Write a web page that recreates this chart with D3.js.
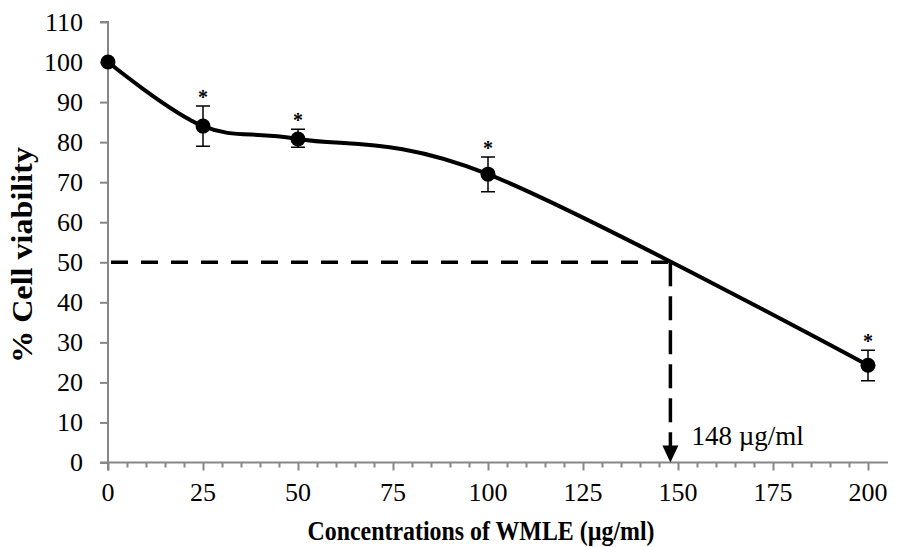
<!DOCTYPE html>
<html>
<head>
<meta charset="utf-8">
<script src="https://cdn.jsdelivr.net/npm/d3@7"></script>
<style>
  body { margin: 0; background: #fff; }
  svg text { font-family: "Liberation Serif", "Times New Roman", serif !important; }
</style>
</head>
<body>
<svg id="chart" width="901" height="547"></svg>
<script>
// data
const concentrations = [0, 25, 50, 100, 200];
const viability = [100, 84, 80.8, 72, 24.3];
const errUpper = [100, 89, 83.2, 76.3, 28];
const errLower = [100, 79, 78.7, 67.6, 20.4];
const significant = [false, true, true, true, true];
const xTicks = [0, 25, 50, 75, 100, 125, 150, 175, 200];
const yTicks = [0, 10, 20, 30, 40, 50, 60, 70, 80, 90, 100, 110];
const ic50 = 148;
const ic50Level = 50;

const svg = d3.select("#chart");
const axisColor = "#878787";

const x = d3.scaleLinear().domain([0, 200]).range([108, 868]);
const y = d3.scaleLinear().domain([0, 110]).range([462.5, 22]);

//* x axis with minor ticks
const xAxis = svg.append("g").attr("transform", `translate(0,${y(0)})`);
xAxis.call(d3.axisBottom(x).tickValues(d3.range(0, 201, 5)).tickSize(5).tickFormat(""))
xAxis.selectAll(".tick").filter(d => d % 25 === 0).select("line").attr("y2", 8);
xAxis.selectAll("line, path").attr("stroke", axisColor).attr("stroke-width", 2);
xAxis.select(".domain").attr("d", `M${x(0) - 8},0H${x(200) + 20}`);

svg.append("g").selectAll("text")
  .data(xTicks)
  .join("text")
  .attr("x", d => x(d))
  .attr("y", 501)
  .attr("text-anchor", "middle")
  .attr("font-size", 26)
  .text(d => d);

//* y axis
const yAxis = svg.append("g").attr("transform", `translate(${x(0)},0)`)
  .attr("font-family", null);
yAxis.call(d3.axisLeft(y).tickValues(yTicks).tickSize(8).tickPadding(17))
yAxis.attr("font-family", "Liberation Serif, serif").attr("font-size", 26);
yAxis.selectAll("line, path").attr("stroke", axisColor).attr("stroke-width", 2);
yAxis.select(".domain").attr("d", `M-8,${y(110)}H0V${y(0) + 8}`);
yAxis.selectAll("text").attr("fill", "#000");

//* axis titles
svg.append("text")
  .attr("transform", `translate(32,255) rotate(-90)`)
  .attr("text-anchor", "middle")
  .attr("font-size", 29)
  .attr("font-weight", "bold")
  .attr("textLength", 216)
  .attr("lengthAdjust", "spacingAndGlyphs")
  .text("% Cell viability");

svg.append("text")
  .attr("x", 481)
  .attr("y", 540)
  .attr("text-anchor", "middle")
  .attr("font-size", 28)
  .attr("font-weight", "bold")
  .attr("textLength", 347)
  .attr("lengthAdjust", "spacingAndGlyphs")
  .text("Concentrations of WMLE (µg/ml)");

//* IC50 dashed guides
svg.append("line")
  .attr("x1", x(0) + 3).attr("x2", x(ic50))
  .attr("y1", y(ic50Level)).attr("y2", y(ic50Level))
  .attr("stroke", "#000").attr("stroke-width", 3.5)
  .attr("stroke-dasharray", "17,13");

svg.append("line")
  .attr("x1", x(ic50)).attr("x2", x(ic50))
  .attr("y1", y(ic50Level)).attr("y2", y(0) - 14)
  .attr("stroke", "#000").attr("stroke-width", 3.5)
  .attr("stroke-dasharray", "24,10");

svg.append("path")
  .attr("d", `M${x(ic50) - 8},${y(0) - 17}L${x(ic50) + 8},${y(0) - 17}L${x(ic50)},${y(0)}Z`)
  .attr("fill", "#000");

svg.append("text")
  .attr("x", x(ic50) + 21)
  .attr("y", 445)
  .attr("font-size", 27)
  .text(`${ic50} µg/ml`);

//* smoothed line
const points = concentrations.map((c, i) => [x(c), y(viability[i])]);
svg.append("path")
  .attr("d", d3.line().curve(d3.curveCardinal.tension(0))(points))
  .attr("fill", "none")
  .attr("stroke", "#000")
  .attr("stroke-width", 4);

//* error bars
const bars = svg.append("g").selectAll("g")
  .data(concentrations.map((c, i) => ({ c, v: viability[i], hi: errUpper[i], lo: errLower[i], sig: significant[i] })))
  .join("g");

bars.filter(d => d.hi !== d.lo).append("path")
  .attr("d", d => `M${x(d.c)},${y(d.hi)}V${y(d.lo)}M${x(d.c) - 7},${y(d.hi)}h14M${x(d.c) - 7},${y(d.lo)}h14`)
  .attr("stroke", "#000")
  .attr("stroke-width", 1.5)
  .attr("fill", "none");

bars.append("circle")
  .attr("cx", d => x(d.c))
  .attr("cy", d => y(d.v))
  .attr("r", 7.5)
  .attr("fill", "#000");

bars.filter(d => d.sig).append("text")
  .attr("x", d => x(d.c))
  .attr("y", d => y(d.hi) - 2)
  .attr("text-anchor", "middle")
  .attr("font-size", 20)
  .attr("font-weight", "bold")
  .text("*");
</script>
</body>
</html>
